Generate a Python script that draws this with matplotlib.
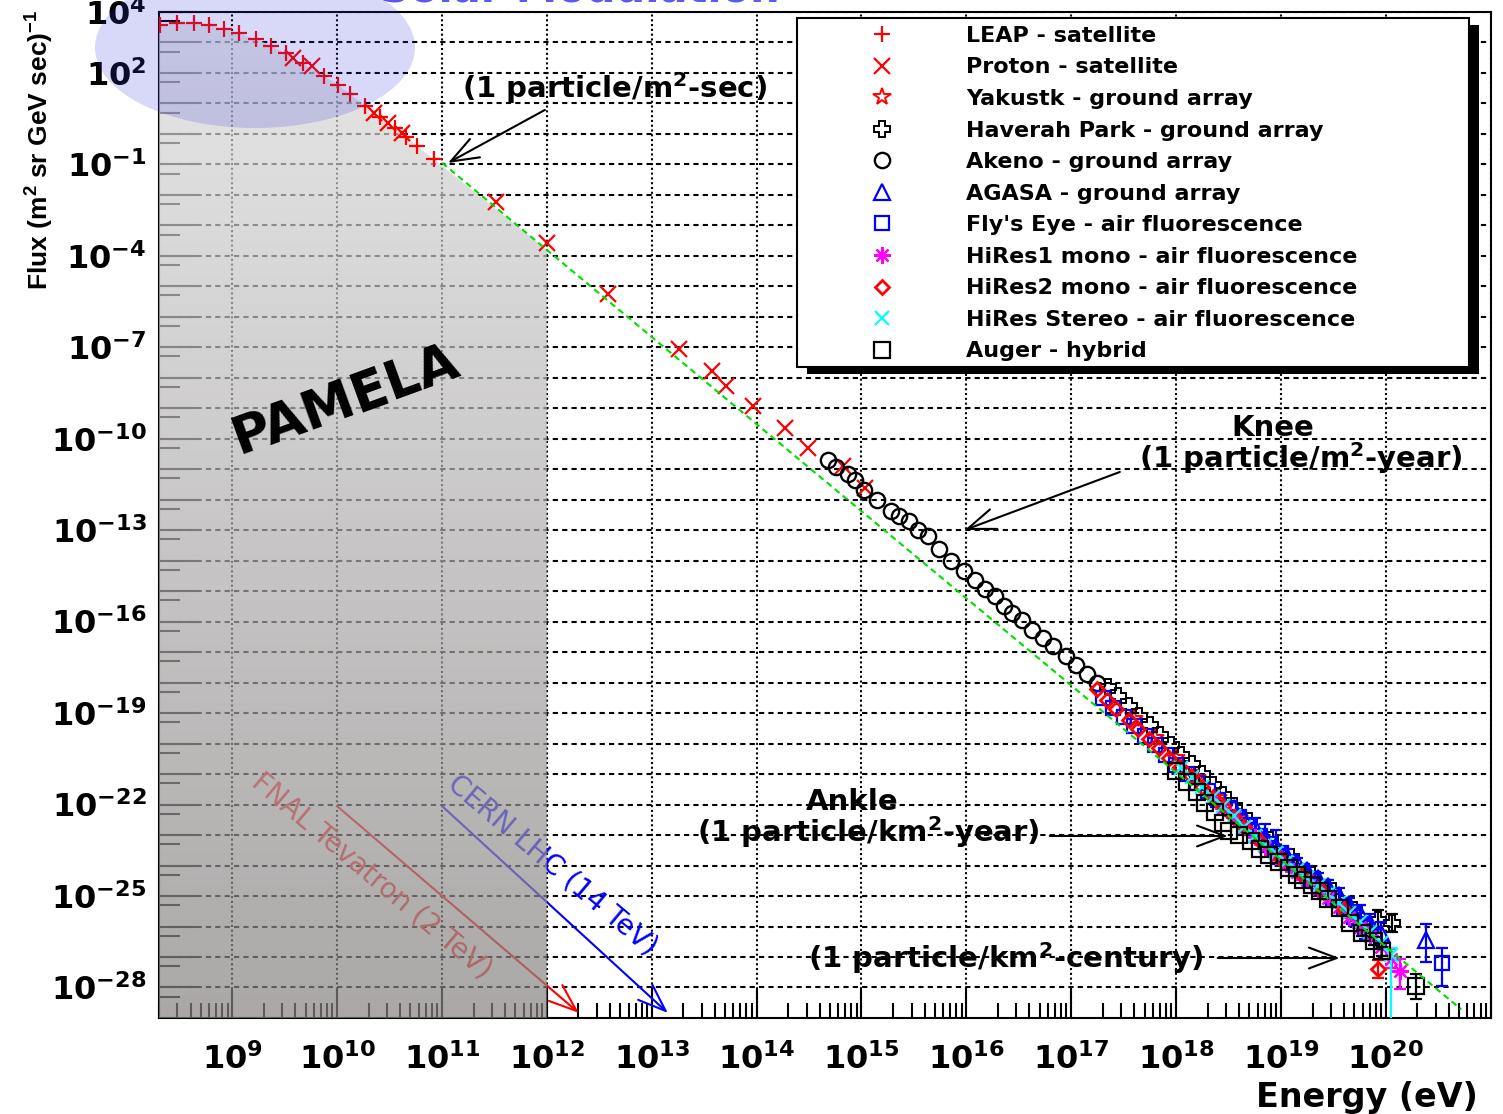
import numpy as np
import matplotlib
matplotlib.use("Agg")
import matplotlib.pyplot as plt
from matplotlib import font_manager
from matplotlib.patches import Polygon, Ellipse, Rectangle
from matplotlib.ticker import FixedLocator, LogLocator, FuncFormatter, NullFormatter

plt.rcParams['font.family'] = 'DejaVu Sans'
plt.rcParams['font.weight'] = 'bold'
plt.rcParams['mathtext.default'] = 'regular'

# values are log10(E / eV) and log10(flux)
leap_logE = [8.31, 8.47, 8.63, 8.78, 8.92, 9.06, 9.23, 9.37, 9.51, 9.67, 9.87, 10.01,
             10.12, 10.27, 10.41, 10.55, 10.66, 10.76, 10.92]
leap_logF = [3.57, 3.65, 3.63, 3.57, 3.44, 3.30, 3.11, 2.89, 2.65, 2.32, 1.90, 1.61,
             1.31, 0.92, 0.55, 0.19, -0.09, -0.39, -0.83]

proton_logE = [9.58, 9.76, 10.35, 10.48, 10.62, 11.51, 12.00, 12.58, 13.26, 13.57,
               13.71, 13.97, 14.27, 14.49, 14.82, 15.03]
proton_logF = [2.48, 2.21, 0.68, 0.37, 0.02, -2.24, -3.58, -5.26, -7.06, -7.77,
               -8.26, -8.91, -9.65, -10.29, -10.91, -11.62]

yakutsk_logE = [17.6, 17.8, 18.0, 18.2, 18.4, 18.6, 18.8, 19.0, 19.2, 19.4, 19.6, 19.8]
yakutsk_logF = [-19.18, -19.82, -20.47, -21.13, -21.80, -22.45, -23.10, -23.68, -24.22,
                -24.78, -25.38, -26.02]

haverah_logE = [17.35, 17.45, 17.55, 17.65, 17.75, 17.85, 17.95, 18.05, 18.15, 18.25,
                18.35, 18.45, 18.55, 18.7, 18.9, 19.1, 19.3, 19.5, 19.7, 19.93, 20.06]
haverah_logF = [-18.15, -18.45, -18.76, -19.08, -19.40, -19.72, -20.04, -20.36, -20.68,
                -20.99, -21.35, -21.70, -22.05, -22.55, -23.15, -23.72, -24.30, -24.85,
                -25.45, -25.77, -25.88]
haverah_up = [0] * 19 + [0.3, 0.3]
haverah_dn = [0] * 19 + [0.3, 0.3]

akeno_logE = [14.68, 14.76, 14.87, 14.94, 15.02, 15.15, 15.28, 15.36, 15.45, 15.54,
              15.63, 15.74, 15.85, 15.98, 16.08, 16.18, 16.27, 16.36, 16.44, 16.53,
              16.63, 16.73, 16.83, 16.95, 17.05, 17.15, 17.25]
akeno_logF = [-10.69, -10.93, -11.16, -11.34, -11.67, -12.00, -12.38, -12.55, -12.71,
              -12.98, -13.20, -13.62, -14.02, -14.35, -14.62, -14.93, -15.17, -15.50,
              -15.72, -15.96, -16.26, -16.53, -16.81, -17.14, -17.42, -17.72, -18.02]

agasa_logE = [18.55, 18.65, 18.75, 18.85, 18.95, 19.05, 19.15, 19.25, 19.35, 19.45,
              19.55, 19.65, 19.75, 19.85, 19.95, 20.38]
agasa_logF = [-22.10, -22.45, -22.75, -23.05, -23.35, -23.62, -23.90, -24.15, -24.40,
              -24.66, -24.95, -25.25, -25.55, -25.88, -26.20, -26.43]
agasa_up = [0, 0, 0.3, 0.4, 0.5, 0.15, 0.15, 0.15, 0.15, 0.2, 0.2, 0.2, 0.25, 0.3, 0.35, 0.5]
agasa_dn = [0, 0, 0.3, 0.5, 0.6, 0.15, 0.15, 0.15, 0.15, 0.2, 0.2, 0.2, 0.25, 0.3, 0.4, 0.75]

flyseye_logE = [17.3, 17.4, 17.5, 17.6, 17.7, 17.8, 17.9, 18.0, 18.1, 18.2, 18.3, 18.4,
                18.5, 18.6, 18.7, 18.8, 18.9, 19.0, 19.1, 19.2, 19.3, 19.4, 19.5, 19.6,
                19.7, 19.8, 20.54]
flyseye_logF = [-18.50, -18.82, -19.12, -19.42, -19.75, -20.06, -20.38, -20.70, -21.00,
                -21.30, -21.55, -21.85, -22.12, -22.40, -22.70, -23.02, -23.30, -23.60,
                -23.90, -24.18, -24.45, -24.72, -25.05, -25.35, -25.68, -26.05, -27.19]
flyseye_up = [0] * 13 + [0.08, 0.1, 0.1, 0.12, 0.15, 0.15, 0.18, 0.2, 0.2, 0.22, 0.25,
                         0.3, 0.35, 0.5]
flyseye_dn = [0] * 13 + [0.08, 0.1, 0.1, 0.12, 0.15, 0.15, 0.18, 0.2, 0.2, 0.22, 0.25,
                         0.3, 0.35, 0.77]

hires1_logE = [18.35, 18.45, 18.55, 18.65, 18.75, 18.85, 18.95, 19.05, 19.15, 19.25,
               19.35, 19.45, 19.55, 19.65, 19.75, 19.85, 19.95, 20.05, 20.14]
hires1_logF = [-21.80, -22.10, -22.42, -22.75, -23.05, -23.38, -23.68, -23.95, -24.22,
               -24.48, -24.76, -25.05, -25.36, -25.68, -26.00, -26.32, -26.66, -27.05,
               -27.46]
hires1_up = [0] * 17 + [0.3, 0.38]
hires1_dn = [0] * 17 + [0.3, 0.6]

hires2_logE = [17.25, 17.34, 17.43, 17.55, 17.64, 17.74, 17.84, 17.93, 18.04, 18.14,
               18.25, 18.35, 18.45, 18.55, 18.65, 18.8, 19.0, 19.2, 19.4, 19.6, 19.93]
hires2_logF = [-18.21, -18.56, -18.86, -19.21, -19.52, -19.85, -20.14, -20.47, -20.76,
               -21.07, -21.42, -21.74, -22.06, -22.40, -22.72, -23.20, -23.80, -24.32,
               -24.86, -25.45, -27.40]
hires2_up = [0] * 20 + [0.3]
hires2_dn = [0] * 20 + [0.3]

stereo_logE = [18.05, 18.15, 18.25, 18.35, 18.45, 18.55, 18.65, 18.75, 18.85, 18.95,
               19.05, 19.15, 19.25, 19.35, 19.45, 19.55, 19.65, 19.75, 19.85, 19.95, 20.05]
stereo_logF = [-20.80, -21.10, -21.42, -21.74, -22.06, -22.38, -22.72, -23.02, -23.32,
               -23.60, -23.88, -24.14, -24.40, -24.66, -24.94, -25.24, -25.55, -25.86,
               -26.18, -26.55, -26.95]
stereo_up = [0] * 20 + [0.25]
stereo_dn = [0] * 20 + [3.0]

auger_logE = [18.0, 18.1, 18.2, 18.28, 18.37, 18.45, 18.5, 18.6, 18.71, 18.8, 18.89,
              18.98, 19.08, 19.15, 19.21, 19.3, 19.37, 19.45, 19.56, 19.66, 19.77, 19.89,
              19.96, 20.29]
auger_logF = [-20.90, -21.25, -21.60, -21.95, -22.26, -22.60, -22.87, -23.00, -23.20,
              -23.45, -23.64, -23.88, -24.08, -24.30, -24.46, -24.65, -24.84, -25.10,
              -25.39, -25.88, -26.21, -26.48, -26.81, -27.96]
auger_up = [0] * 20 + [0.1, 0.12, 0.15, 0.4]
auger_dn = [0] * 20 + [0.1, 0.12, 0.15, 0.43]

# E^-2.86 guide line
green_logE = [11.0, 20.72]
green_logF = [-0.95, -28.72]

pamela_logE_max = 12.0

x_label_exps = list(range(9, 21))
y_label_exps = [4, 2, -1, -4, -7, -10, -13, -16, -19, -22, -25, -28]

labels = ['LEAP - satellite', 'Proton - satellite', 'Yakustk - ground array',
          'Haverah Park - ground array', 'Akeno - ground array', 'AGASA - ground array',
          "Fly's Eye - air fluorescence", 'HiRes1 mono - air fluorescence',
          'HiRes2 mono - air fluorescence', 'HiRes Stereo - air fluorescence',
          'Auger - hybrid']

fig = plt.figure(figsize=(15.03, 11.14), dpi=100)
ax = fig.add_axes([0.1058, 0.0862, 0.8860, 0.9031])
ax.set_xscale('log')
ax.set_yscale('log')
xmin, xmax, ymin, ymax = 2e8, 1e21, 1e-29, 1e4
ax.set_xlim(xmin, xmax)
ax.set_ylim(ymin, ymax)
ax.set_autoscale_on(False)


def series(lE, lF, up=None, dn=None, **kw):
    lE = np.asarray(lE, float)
    lF = np.asarray(lF, float)
    line, = ax.plot(10 ** lE, 10 ** lF, ls='none', zorder=4, **kw)
    if up is not None:
        up = np.asarray(up, float)
        dn = np.asarray(dn, float)
        m = (up > 0) | (dn > 0)
        F = 10 ** lF[m]
        ax.errorbar(10 ** lE[m], F, yerr=[F - 10 ** (lF[m] - dn[m]), 10 ** (lF[m] + up[m]) - F],
                    fmt='none', ecolor=kw.get('mec', kw.get('color')), elinewidth=1.6,
                    capsize=4, capthick=1.6, zorder=4)
    return line


h = []
h.append(series(leap_logE, leap_logF, marker='+', color='red', ms=12, mew=1.6))
h.append(series(proton_logE, proton_logF, marker='x', color='red', ms=11, mew=1.6))
h.append(series(yakutsk_logE, yakutsk_logF, marker='*', mfc='none', mec='red', ms=13, mew=1.4))
h.append(series(haverah_logE, haverah_logF, haverah_up, haverah_dn, marker='P', mfc='none',
                mec='black', ms=11, mew=1.4))
h.append(series(akeno_logE, akeno_logF, marker='o', mfc='none', mec='black', ms=11, mew=1.7))
h.append(series(agasa_logE, agasa_logF, agasa_up, agasa_dn, marker='^', mfc='none', mec='blue',
                ms=11, mew=1.6))
h.append(series(flyseye_logE, flyseye_logF, flyseye_up, flyseye_dn, marker='s', mfc='none',
                mec='blue', ms=10, mew=1.6))
h.append(series(hires1_logE, hires1_logF, hires1_up, hires1_dn, marker=(8, 2, 0), color='magenta',
                mec='magenta', ms=12, mew=1.6))
h.append(series(hires2_logE, hires2_logF, hires2_up, hires2_dn, marker='D', mfc='none', mec='red',
                ms=7, mew=2))
h.append(series(stereo_logE, stereo_logF, stereo_up, stereo_dn, marker='x', color='cyan',
                mec='cyan', ms=10, mew=1.6))
h.append(series(auger_logE, auger_logF, auger_up, auger_dn, marker='s', mfc='none', mec='black',
                ms=11, mew=1.6))

ax.plot(10 ** np.array(green_logE), 10 ** np.array(green_logF), color='#00dd00',
        ls=(0, (3, 2)), lw=1.5, zorder=5)

# grey PAMELA overlay, clipped under the spectrum up to 1 TeV
g_edge = np.interp(pamela_logE_max, green_logE, green_logF)
vx = np.concatenate([[xmin], 10 ** np.array(leap_logE),
                     [10 ** pamela_logE_max, 10 ** pamela_logE_max, xmin]])
vy = np.concatenate([[10 ** leap_logF[0]], 10 ** np.array(leap_logF),
                     [10 ** g_edge, 1e-31, 1e-31]])
top = np.array([0.87, 0.87, 0.87])
bot = np.array([0.53, 0.51, 0.51])
t = np.linspace(0, 1, 256)[:, None]
img = np.zeros((256, 1, 4))
img[:, 0, :3] = top + (bot - top) * t
img[:, 0, 3] = 0.7
im = ax.imshow(img, extent=[0, 1, 0, 1], transform=ax.transAxes, aspect='auto',
               origin='upper', interpolation='bilinear', zorder=3)
im.set_clip_path(Polygon(np.column_stack([vx, vy]), closed=True, transform=ax.transData))

# axes styling
ax.xaxis.set_major_locator(FixedLocator(10.0 ** np.arange(9, 22)))
ax.xaxis.set_minor_locator(LogLocator(base=10, subs=np.arange(2, 10), numticks=100))
ax.yaxis.set_major_locator(FixedLocator(10.0 ** np.arange(-28, 5)))
ax.yaxis.set_minor_locator(LogLocator(base=10, subs=(5.0,), numticks=100))
ax.xaxis.set_minor_formatter(NullFormatter())
ax.yaxis.set_minor_formatter(NullFormatter())


def xfmt(v, p):
    e = int(round(np.log10(v)))
    return '$10^{%d}$' % e if e in x_label_exps else ''


def yfmt(v, p):
    e = int(round(np.log10(v)))
    return '$10^{%d}$' % e if e in y_label_exps else ''


ax.xaxis.set_major_formatter(FuncFormatter(xfmt))
ax.yaxis.set_major_formatter(FuncFormatter(yfmt))
ax.tick_params(axis='both', which='both', direction='in', top=False, right=False, width=1.5)
ax.tick_params(axis='x', which='major', length=21, pad=18, labelsize=23)
ax.tick_params(axis='x', which='minor', length=11)
ax.tick_params(axis='y', which='major', length=27, pad=9, labelsize=23)
ax.tick_params(axis='y', which='minor', length=15)
for s in ax.spines.values():
    s.set_linewidth(1.5)
ax.set_axisbelow(True)
ax.grid(True, which='major', axis='x', color='black', ls=(0, (1, 1.3)), lw=1.5)
ax.grid(True, which='major', axis='y', color='black', ls=(0, (2.5, 2)), lw=1.5)

# legend with drop shadow
bx, by, bw, bh = 0.479, 0.647, 0.505, 0.347
ax.add_patch(Rectangle((bx + 0.0075, by - 0.007), bw, bh, transform=ax.transAxes,
                       fc='black', ec='none', zorder=6, clip_on=False))
ax.add_patch(Rectangle((bx, by), bw, bh, transform=ax.transAxes, fc='white', ec='black',
                       lw=1.5, zorder=6.1, clip_on=False))
leg = ax.legend(h, labels, loc='upper left', bbox_to_anchor=(bx, by + bh + 0.001),
                borderaxespad=0, frameon=False, fontsize=16, borderpad=0.4,
                handlelength=6.9, handletextpad=0.33, labelspacing=0.52, numpoints=1)
leg.set_zorder(7)


def arrow(tail, tip, color='black', z=5):
    ax.annotate('', xy=tip, xytext=tail, xycoords='axes fraction', textcoords='axes fraction',
                arrowprops=dict(arrowstyle='->,head_length=0.8,head_width=0.3', color=color,
                                lw=1.5, mutation_scale=25, shrinkA=0, shrinkB=0), zorder=z)


def label(x, y, s, **kw):
    kw.setdefault('fontsize', 21)
    kw.setdefault('zorder', 5)
    ax.text(x, y, s, transform=ax.transAxes, ha='center', va='center', **kw)


label(0.3423, 0.9245, '(1 particle/m$^2$-sec)')
arrow((0.2898, 0.9026), (0.2170, 0.8499))
label(0.8363, 0.5865, 'Knee')
label(0.8574, 0.5567, '(1 particle/m$^2$-year)')
arrow((0.7215, 0.5427), (0.6051, 0.4851))
label(0.5203, 0.2147, 'Ankle')
label(0.5330, 0.1849, '(1 particle/km$^2$-year)')
arrow((0.6689, 0.1809), (0.8026, 0.1809))
label(0.6359, 0.0596, '(1 particle/km$^2$-century)')
arrow((0.7950, 0.0596), (0.8866, 0.0596))

label(0.1396, 0.6143, 'PAMELA', fontsize=38, rotation=20, rotation_mode='anchor', zorder=5.5)
label(0.1599, 0.1412, 'FNAL Tevatron (2 TeV)', fontsize=20, fontweight='normal', color='#ff2020',
      rotation=-40, rotation_mode='anchor', zorder=2.8)
label(0.2958, 0.1521, 'CERN LHC (14 TeV)', fontsize=20, fontweight='normal', color='blue',
      rotation=-40, rotation_mode='anchor', zorder=2.8)
arrow((0.1336, 0.2107), (0.3153, 0.0050), color='red', z=2.8)
arrow((0.2125, 0.2107), (0.3821, 0.0050), color='blue', z=2.8)

# figure-level texts
names = {f.name for f in font_manager.fontManager.ttflist}
if 'Liberation Sans Narrow' in names:
    yfam, ysize = 'Liberation Sans Narrow', 23
else:
    yfam, ysize = 'Liberation Sans', 19
fig.text(40 / 1503, 1 - 10 / 1114, 'Flux (m$^2$ sr GeV sec)$^{-1}$', rotation=90,
         ha='center', va='top', fontsize=ysize, family=yfam, fontweight='bold')
fig.text(1478 / 1503, 1 - 1097 / 1114, 'Energy (eV)', ha='right', va='center', fontsize=24)
fig.text(580 / 1503, 1 - 2 / 1114, 'Solar Modulation', ha='center', va='baseline',
         fontsize=30, color='#5a5aee')

fig.add_artist(Ellipse((255 / 1503, 1 - 47.5 / 1114), 320 / 1503, 161 / 1114,
                       transform=fig.transFigure, fc='#3c3cdc', ec='none', alpha=0.2, zorder=10))

fig.savefig('out.png', dpi=100)
